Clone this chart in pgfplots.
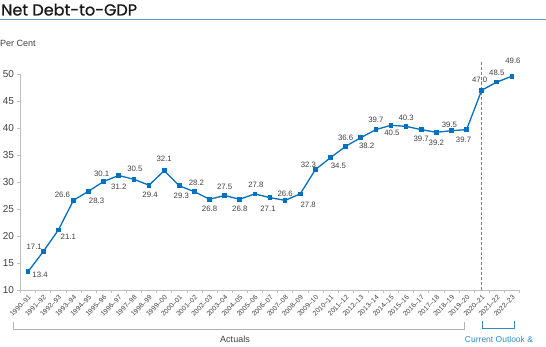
\documentclass[border=0pt]{standalone}
\usepackage{fontspec}
\setmainfont{Liberation Sans}
\newfontfamily\titlefont[FakeBold=0.8]{Poppins}
\usepackage{pgfplots}
\pgfplotsset{compat=1.18}
\usepackage{pgfplotstable}
\definecolor{lineblue}{RGB}{0,112,192}
\definecolor{txtgray}{RGB}{64,64,64}
\definecolor{axgray}{RGB}{191,191,191}
\definecolor{titleline}{RGB}{91,155,213}
\definecolor{outblue}{RGB}{46,139,208}

\pgfplotstableread{
x y lab dx dy
0 13.4 13.4 12 -3
1 17.1 17.1 -9 5
2 21.1 21.1 10 -7
3 26.6 26.6 -11 6
4 28.3 28.3 8 -10
5 30.1 30.1 -2 8
6 31.2 31.2 0 -11
7 30.5 30.5 1 10
8 29.4 29.4 1 -10
9 32.1 32.1 0 12
10 29.3 29.3 2 -10
11 28.2 28.2 2 9
12 26.8 26.8 0 -10
13 27.5 27.5 0 9
14 26.8 26.8 0 -10
15 27.8 27.8 1 9
16 27.1 27.1 -2 -11
17 26.6 26.6 0 7
18 27.8 27.8 8 -11
19 32.3 32.3 -7 5
20 34.5 34.5 8 -8
21 36.6 36.6 0 9
22 38.2 38.2 6 -8
23 39.7 39.7 0 10
24 40.5 40.5 1 -8
25 40.3 40.3 0 9
26 39.7 39.7 0 -9
27 39.2 39.2 0 -10
28 39.5 39.5 -2 6
29 39.7 39.7 -3 -10
30 47.0 47.0 -2 10
31 48.5 48.5 0 9
32 49.6 49.6 1 15
}\debt

\begin{document}
\begin{tikzpicture}[x=1pt,y=1pt]
\useasboundingbox (0,0) rectangle (546,347);
\node[anchor=base west, font=\titlefont\fontsize{16}{18}\selectfont, inner sep=0pt, text=black!90] at (1,331.5) {Net Debt-to-GDP};
\draw[titleline, line width=1pt] (0,327.5) -- (546,327.5);
\node[anchor=base west, font=\fontsize{9}{10}\selectfont, inner sep=0pt, text=txtgray] at (0,300.5) {Per Cent};

\begin{axis}[
  at={(20.5pt,57pt)}, anchor=south west, scale only axis,
  width=499pt, height=216pt,
  xmin=-0.5, xmax=32.5, ymin=10, ymax=50,
  axis x line*=bottom, axis y line*=left,
  axis line style={axgray, line width=0.8pt, -},
  xtick={0,...,32},
  xticklabels={1990–91,1991–92,1992–93,1993–94,1994–95,1995–96,1996–97,1997–98,1998–99,1999–00,2000–01,2001–02,2002–03,2003–04,2004–05,2005–06,2006–07,2007–08,2008–09,2009–10,2010–11,2011–12,2012–13,2013–14,2014–15,2015–16,2016–17,2017–18,2018–19,2019–20,2020–21,2021–22,2022–23},
  major x tick style={draw=none},
  minor xtick={-0.5,0.5,...,32.5},
  minor x tick style={axgray, line width=0.6pt},
  minor tick length=3pt,
  major tick length=3pt,
  tick align=outside,
  x tick label style={rotate=45, anchor=north east, font=\fontsize{6.8}{7}\selectfont, text=txtgray, inner sep=1pt},
  ytick={10,15,...,50},
  y tick style={axgray, line width=0.6pt},
  y tick label style={font=\fontsize{10}{11}\selectfont, text=txtgray},
  /pgf/number format/assume math mode=true,
  clip=false,
]
\draw[gray, dashed, dash pattern=on 3pt off 2pt, line width=0.8pt] (axis cs:30,10) -- (axis cs:30,52.2);
\addplot[lineblue, line width=1.3pt, mark=square*, mark size=1.7pt, mark options={solid},
  point meta=explicit symbolic,
  visualization depends on={\thisrow{dx} \as \dx},
  visualization depends on={\thisrow{dy} \as \dy},
  nodes near coords,
  nodes near coords style={anchor=center, xshift=\dx, yshift=\dy, font=\fontsize{7.8}{8}\selectfont, text=txtgray, inner sep=0pt},
] table[x=x, y=y, meta=lab] {\debt};
\end{axis}

\draw[axgray!80!gray, line width=0.8pt] (13,25) -- (13,18) -- (464,18) -- (464,25);
\node[font=\fontsize{9}{10}\selectfont, text=txtgray] at (235,8) {Actuals};
\draw[outblue, line width=0.8pt] (482,26) -- (482,19) -- (514,19) -- (514,26);
\node[font=\fontsize{8.5}{10}\selectfont, text=outblue] at (499,8) {Current Outlook \&};
\end{tikzpicture}
\end{document}
